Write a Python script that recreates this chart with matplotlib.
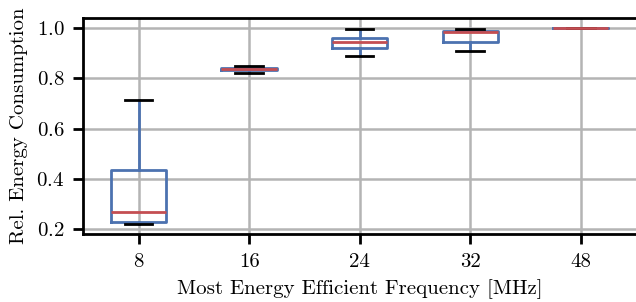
"""Relative energy consumption per most energy efficient frequency"""

import matplotlib
matplotlib.use('Agg')
import matplotlib.pyplot as plt

plt.rcParams['font.family'] = ['cmr10', 'DejaVu Serif']
plt.rcParams['mathtext.fontset'] = 'cm'
plt.rcParams['axes.formatter.use_mathtext'] = True
plt.rcParams['font.size'] = 15

freqs = ['8', '16', '24', '32', '48']
whislo = [0.219, 0.822, 0.891, 0.908, 1.0]
q1 = [0.227, 0.832, 0.922, 0.946, 1.0]
med = [0.268, 0.837, 0.944, 0.985, 1.0]
q3 = [0.435, 0.843, 0.962, 0.990, 1.0]
whishi = [0.714, 0.850, 0.997, 0.996, 1.0]

blue = '#4c72b0'
red = '#c44e52'

stats = []
for i, f in enumerate(freqs):
    stats.append(dict(label=f, whislo=whislo[i], q1=q1[i], med=med[i],
                      q3=q3[i], whishi=whishi[i], fliers=[]))

fig, ax = plt.subplots(figsize=(6.36, 3.02), dpi=100)
fig.subplots_adjust(left=0.131, right=1.0, top=0.94, bottom=0.225)

ax.bxp(stats, showfliers=False,
       boxprops=dict(color=blue, lw=2),
       whiskerprops=dict(color=blue, lw=2),
       capprops=dict(color='k', lw=2),
       medianprops=dict(color=red, lw=2))

ax.set_ylim(0.18, 1.04)
ax.set_xlim(0.5, 5.5)
ax.set_yticks([0.2, 0.4, 0.6, 0.8, 1.0])
ax.grid(True, color='#b4b4b4', lw=1.8)
ax.set_axisbelow(True)
ax.spines['right'].set_visible(False)
for s in ['left', 'bottom', 'top']:
    ax.spines[s].set_linewidth(2)
ax.tick_params(width=2, length=7.5, pad=6)

ax.set_xlabel('Most Energy Efficient Frequency [MHz]', labelpad=6)
ax.set_ylabel('Rel. Energy Consumption', labelpad=6)

fig.savefig('out.png', dpi=100)
